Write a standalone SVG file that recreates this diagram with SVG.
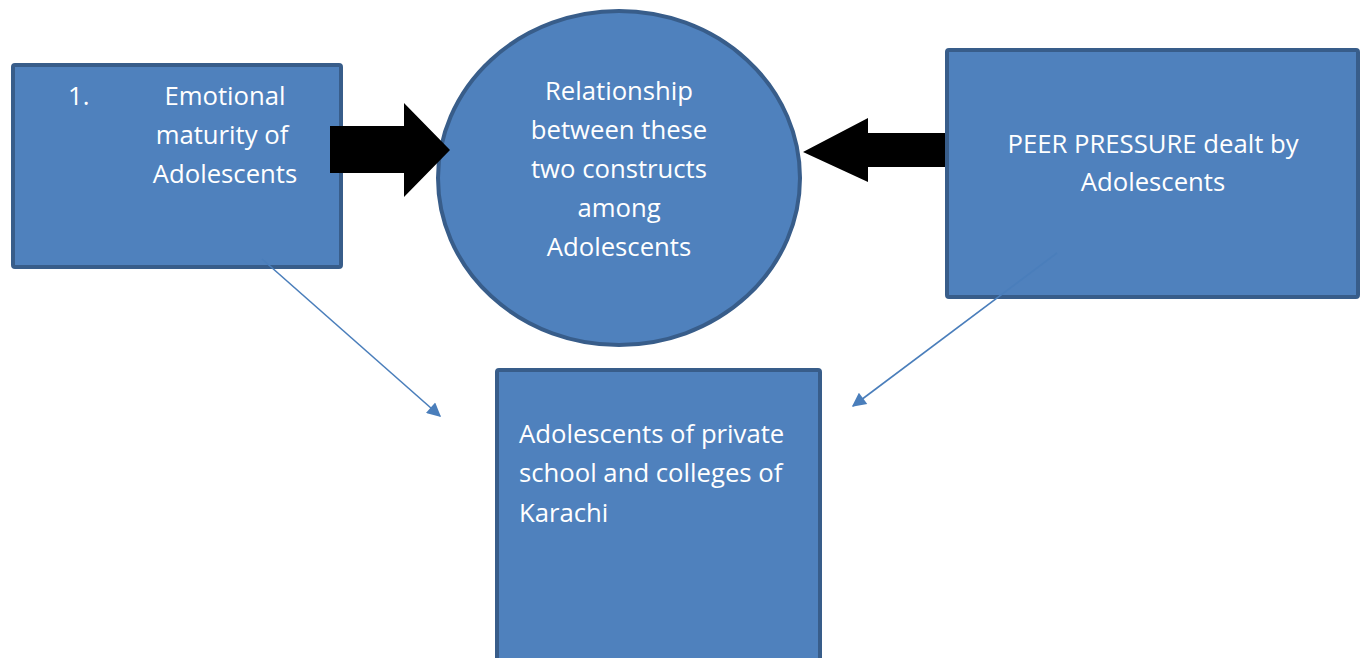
<svg xmlns="http://www.w3.org/2000/svg" width="1364" height="658" viewBox="0 0 1364 658">
  <style>
    .shape { fill: #4F81BD; stroke: #385D8A; stroke-width: 4; }
    .label { fill: #FFFFFF; font-family: "Open Sans", "Liberation Sans", sans-serif; font-size: 25.7px; }
    .mid { text-anchor: middle; }
    .link { stroke: #4A7EBB; stroke-width: 1.6; fill: none; marker-end: url(#tip); }
    .block { fill: #000000; }
  </style>
  <defs>
    <marker id="tip" viewBox="0 0 10 10" refX="9" refY="5" markerWidth="16" markerHeight="14" markerUnits="userSpaceOnUse" orient="auto">
      <path d="M0,0 L10,5 L0,10 Z" fill="#4A7EBB"/>
    </marker>
    <filter id="soft" x="-5%" y="-5%" width="110%" height="110%">
      <feGaussianBlur stdDeviation="0.7"/>
    </filter>
  </defs>

  <g id="emotional-maturity">
    <rect class="shape" x="13" y="65" width="328" height="202" rx="2"/>
    <text class="label" x="68" y="105">1.</text>
    <text class="label mid" x="225" y="105">Emotional</text>
    <text class="label mid" x="222" y="144">maturity of</text>
    <text class="label mid" x="225" y="183">Adolescents</text>
  </g>

  <g id="peer-pressure">
    <rect class="shape" x="947" y="50" width="411" height="247" rx="2"/>
    <text class="label mid" x="1153" y="153">PEER PRESSURE dealt by</text>
    <text class="label mid" x="1153" y="191">Adolescents</text>
  </g>

  <g id="population">
    <rect class="shape" x="497" y="370" width="323" height="300" rx="2"/>
    <text class="label" x="519" y="443">Adolescents of private</text>
    <text class="label" x="519" y="482">school and colleges of</text>
    <text class="label" x="519" y="522">Karachi</text>
  </g>

  <g id="relationship">
    <ellipse class="shape" cx="619" cy="178" rx="181" ry="167"/>
    <text class="label mid" x="619" y="100">Relationship</text>
    <text class="label mid" x="619" y="139">between these</text>
    <text class="label mid" x="619" y="178">two constructs</text>
    <text class="label mid" x="619" y="217">among</text>
    <text class="label mid" x="619" y="256">Adolescents</text>
  </g>

  <!-- Thin connectors into the bottom box, starting inside the source boxes -->
  <g id="connectors">
    <line class="link" x1="262" y1="259" x2="440" y2="416"/>
    <line class="link" x1="1057" y1="253" x2="853" y2="406"/>
  </g>

  <!-- Block arrows pointing into the circle -->
  <g id="block-arrows">
    <polygon class="block" points="330,126 404,126 404,103 450,150 404,197 404,173 330,173"/>
    <polygon class="block" filter="url(#soft)" points="945,133 868,133 868,118 803,152 868,182 868,167 945,167"/>
  </g>
</svg>
